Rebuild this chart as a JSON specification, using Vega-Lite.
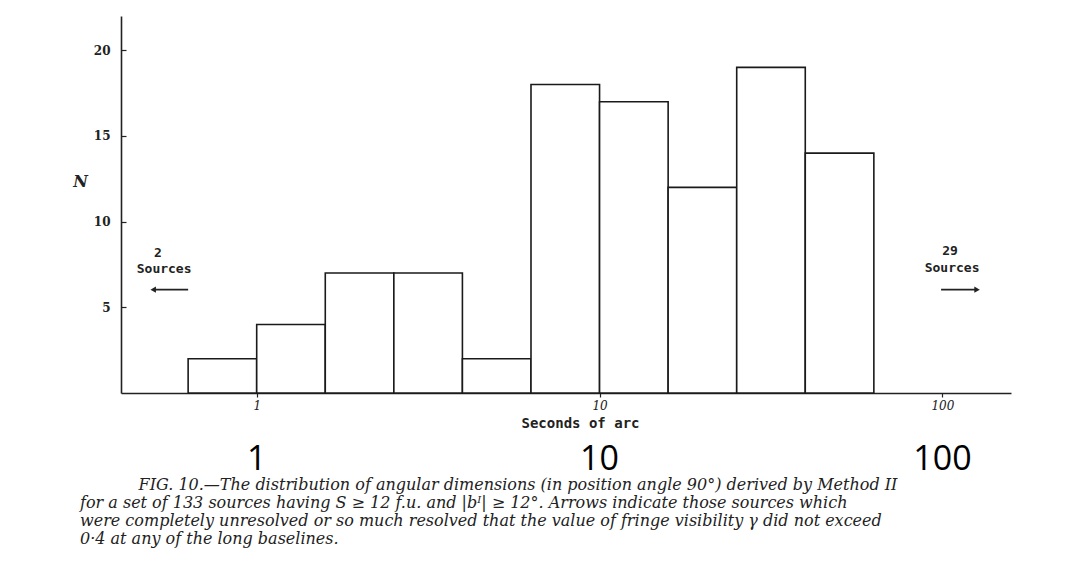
{
  "$schema": "https://vega.github.io/schema/vega-lite/v6.json",
  "width": 890,
  "height": 377,
  "autosize": {"type": "none"},
  "padding": {"left": 121, "top": 16, "right": 77, "bottom": 194},
  "background": "white",
  "config": {"view": {"stroke": null}},
  "title": {
    "text": [
      "\u2800\u2800\u2800\u2800\u2800FIG. 10.—The distribution of angular dimensions (in position angle 90°) derived by Method II",
      "for a set of 133 sources having S ≥ 12 f.u. and |bᴵ| ≥ 12°.   Arrows indicate those sources which",
      "were completely unresolved or so much resolved that the value of fringe visibility γ did not exceed",
      "0·4 at any of the long baselines."
    ],
    "orient": "bottom",
    "anchor": "start",
    "frame": "group",
    "dx": -41,
    "offset": 0,
    "font": "DejaVu Serif",
    "fontStyle": "italic",
    "fontWeight": "normal",
    "fontSize": 16,
    "lineHeight": 18,
    "color": "#222222"
  },
  "datasets": {
    "bins": [
      {"lo": 0.631, "hi": 1.0, "n": 2},
      {"lo": 1.0, "hi": 1.585, "n": 4},
      {"lo": 1.585, "hi": 2.512, "n": 7},
      {"lo": 2.512, "hi": 3.981, "n": 7},
      {"lo": 3.981, "hi": 6.31, "n": 2},
      {"lo": 6.31, "hi": 10.0, "n": 18},
      {"lo": 10.0, "hi": 15.85, "n": 17},
      {"lo": 15.85, "hi": 25.12, "n": 12},
      {"lo": 25.12, "hi": 39.81, "n": 19},
      {"lo": 39.81, "hi": 63.1, "n": 14}
    ],
    "notes": [
      {"x": 0.515, "y": 8.19, "label": "2"},
      {"x": 0.537, "y": 7.25, "label": "Sources"},
      {"x": 105.3, "y": 8.3, "label": "29"},
      {"x": 106.7, "y": 7.29, "label": "Sources"}
    ],
    "arrows": [
      {"x": 0.499, "x2": 0.631, "y": 6.03, "tip": 0.499, "dir": "left"},
      {"x": 99.1, "x2": 126.2, "y": 6.03, "tip": 126.2, "dir": "right"}
    ],
    "big": [
      {"x": 1, "label": "1"},
      {"x": 10, "label": "10"},
      {"x": 100, "label": "100"}
    ]
  },
  "layer": [
    {
      "data": {"name": "bins"},
      "mark": {"type": "bar", "fill": "white", "stroke": "#1a1a1a", "strokeWidth": 1.6},
      "encoding": {
        "x": {
          "field": "lo",
          "type": "quantitative",
          "scale": {"type": "log", "domain": [0.402, 158.5], "nice": false},
          "axis": {
            "values": [1, 10, 100],
            "format": "d",
            "title": "Seconds of arc",
            "titleFont": "DejaVu Sans Mono",
            "titleFontWeight": "bold",
            "titleFontSize": 14,
            "titleColor": "#222222",
            "titleX": 459,
            "titlePadding": 5,
            "labelFont": "DejaVu Serif",
            "labelFontStyle": "italic",
            "labelFontSize": 12,
            "labelColor": "#222222",
            "labelPadding": 3,
            "labelFlush": false,
            "tickSize": 4,
            "tickColor": "#222222",
            "tickWidth": 1.2,
            "domainColor": "#222222",
            "domainWidth": 1.6,
            "grid": false
          }
        },
        "x2": {"field": "hi"},
        "y": {
          "field": "n",
          "type": "quantitative",
          "scale": {"domain": [0, 22], "nice": false},
          "axis": {
            "values": [5, 10, 15, 20],
            "title": "N",
            "titleAngle": 0,
            "titleX": -41,
            "titleY": 165,
            "titleAlign": "center",
            "titleBaseline": "middle",
            "titleFont": "DejaVu Serif",
            "titleFontStyle": "italic",
            "titleFontWeight": "bold",
            "titleFontSize": 16,
            "titleColor": "#222222",
            "labelFont": "DejaVu Serif",
            "labelFontWeight": "bold",
            "labelFontSize": 12,
            "labelColor": "#222222",
            "labelPadding": 16,
            "tickSize": -5,
            "tickColor": "#222222",
            "tickWidth": 1.2,
            "domainColor": "#222222",
            "domainWidth": 1.6,
            "grid": false
          }
        },
        "y2": {"datum": 0}
      }
    },
    {
      "data": {"name": "notes"},
      "mark": {"type": "text", "font": "DejaVu Sans Mono", "fontWeight": "bold", "fontSize": 13, "color": "#222222", "baseline": "middle"},
      "encoding": {
        "x": {"field": "x", "type": "quantitative"},
        "y": {"field": "y", "type": "quantitative"},
        "text": {"field": "label"}
      }
    },
    {
      "data": {"name": "arrows"},
      "mark": {"type": "rule", "stroke": "#222222", "strokeWidth": 1.6},
      "encoding": {
        "x": {"field": "x", "type": "quantitative"},
        "x2": {"field": "x2"},
        "y": {"field": "y", "type": "quantitative"}
      }
    },
    {
      "data": {"name": "arrows"},
      "mark": {"type": "point", "filled": true, "color": "#222222", "size": 40, "opacity": 1},
      "encoding": {
        "x": {"field": "tip", "type": "quantitative"},
        "y": {"field": "y", "type": "quantitative"},
        "shape": {
          "field": "dir",
          "type": "nominal",
          "scale": {"domain": ["left", "right"], "range": ["triangle-left", "triangle-right"]},
          "legend": null
        }
      }
    },
    {
      "data": {"name": "big"},
      "mark": {"type": "text", "font": "Open Sans", "fontSize": 34, "color": "black", "baseline": "middle"},
      "encoding": {
        "x": {"field": "x", "type": "quantitative"},
        "y": {"datum": -3.9},
        "text": {"field": "label"}
      }
    }
  ]
}
